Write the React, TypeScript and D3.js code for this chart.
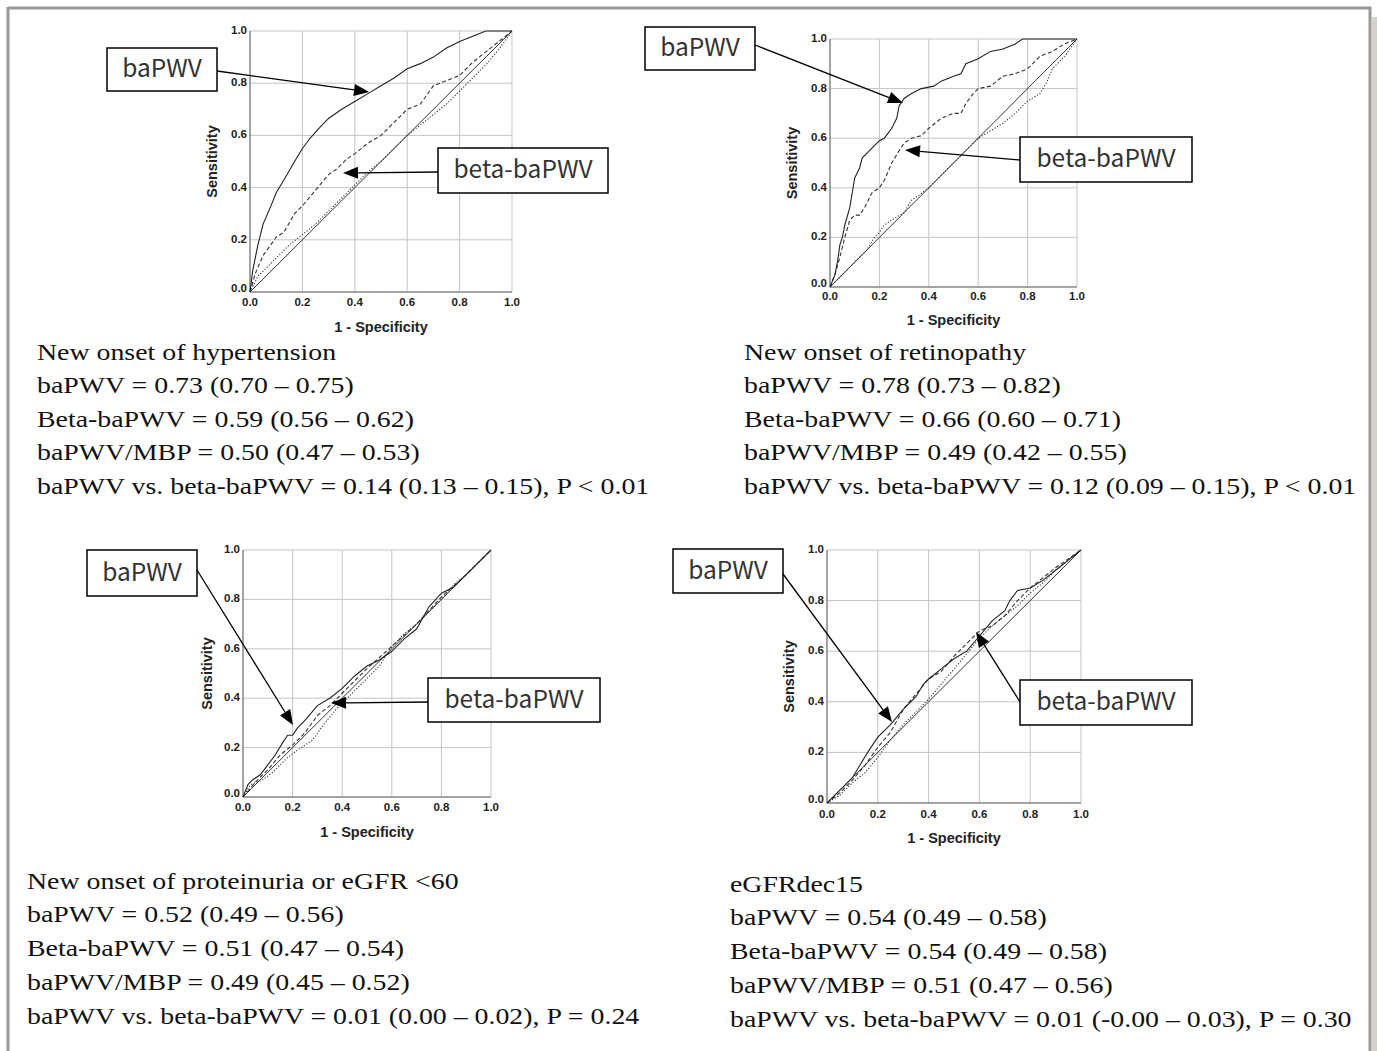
import React from "react";
import * as d3 from "d3";

type Pt = [number, number];

const ticks = [0, 0.2, 0.4, 0.6, 0.8, 1.0];
const xTitle = "1 - Specificity";
const yTitle = "Sensitivity";
const calloutA = "baPWV";
const calloutB = "beta-baPWV";

// Panel 1: New onset of hypertension
const hypBaPWV: Pt[] = [[0,0],[0.01,0.08],[0.03,0.18],[0.05,0.26],[0.08,0.33],[0.1,0.38],[0.13,0.43],[0.17,0.5],[0.2,0.55],[0.23,0.59],[0.27,0.635],[0.3,0.665],[0.35,0.7],[0.4,0.73],[0.45,0.76],[0.5,0.79],[0.55,0.82],[0.6,0.855],[0.65,0.875],[0.7,0.9],[0.75,0.935],[0.8,0.96],[0.85,0.98],[0.9,1.0],[0.95,1.0],[1,1]];
const hypBeta: Pt[] = [[0,0],[0.02,0.07],[0.05,0.14],[0.1,0.21],[0.13,0.23],[0.17,0.3],[0.2,0.33],[0.25,0.39],[0.3,0.45],[0.33,0.47],[0.37,0.51],[0.4,0.53],[0.45,0.57],[0.5,0.6],[0.55,0.65],[0.6,0.7],[0.65,0.72],[0.7,0.79],[0.75,0.81],[0.8,0.83],[0.85,0.88],[0.9,0.92],[0.95,0.96],[1,1]];
const hypMBP: Pt[] = [[0,0],[0.03,0.06],[0.07,0.1],[0.1,0.13],[0.15,0.18],[0.2,0.22],[0.25,0.26],[0.3,0.31],[0.35,0.36],[0.4,0.41],[0.45,0.46],[0.5,0.5],[0.55,0.55],[0.6,0.6],[0.65,0.64],[0.7,0.68],[0.75,0.72],[0.8,0.77],[0.85,0.82],[0.9,0.87],[0.95,0.93],[1,1]];
const hypText = ["New onset of hypertension","baPWV = 0.73 (0.70 – 0.75)","Beta-baPWV = 0.59 (0.56 – 0.62)","baPWV/MBP = 0.50 (0.47 – 0.53)","baPWV vs. beta-baPWV = 0.14 (0.13 – 0.15), P < 0.01"];

// Panel 2: New onset of retinopathy
const retBaPWV: Pt[] = [[0,0],[0.02,0.05],[0.03,0.1],[0.04,0.17],[0.05,0.2],[0.06,0.25],[0.08,0.32],[0.09,0.38],[0.1,0.44],[0.12,0.48],[0.13,0.52],[0.15,0.54],[0.18,0.57],[0.2,0.59],[0.22,0.6],[0.25,0.64],[0.27,0.68],[0.28,0.73],[0.3,0.76],[0.33,0.78],[0.37,0.8],[0.42,0.81],[0.45,0.83],[0.5,0.85],[0.53,0.86],[0.55,0.9],[0.6,0.92],[0.65,0.95],[0.7,0.96],[0.75,0.98],[0.78,1.0],[1,1]];
const retBeta: Pt[] = [[0,0],[0.02,0.05],[0.04,0.12],[0.06,0.2],[0.08,0.27],[0.1,0.29],[0.12,0.29],[0.14,0.32],[0.17,0.38],[0.2,0.4],[0.22,0.43],[0.25,0.5],[0.28,0.55],[0.3,0.58],[0.33,0.6],[0.37,0.61],[0.4,0.64],[0.45,0.68],[0.5,0.7],[0.53,0.7],[0.55,0.74],[0.58,0.78],[0.6,0.8],[0.65,0.81],[0.7,0.85],[0.75,0.86],[0.8,0.88],[0.85,0.93],[0.9,0.95],[0.95,0.98],[1,1]];
const retMBP: Pt[] = [[0,0],[0.05,0.05],[0.1,0.1],[0.15,0.15],[0.18,0.2],[0.2,0.22],[0.22,0.25],[0.25,0.27],[0.3,0.3],[0.33,0.35],[0.36,0.37],[0.4,0.4],[0.45,0.45],[0.5,0.5],[0.55,0.55],[0.6,0.6],[0.65,0.63],[0.7,0.66],[0.75,0.7],[0.8,0.75],[0.85,0.78],[0.88,0.83],[0.9,0.88],[0.95,0.93],[1,1]];
const retText = ["New onset of retinopathy","baPWV = 0.78 (0.73 – 0.82)","Beta-baPWV = 0.66 (0.60 – 0.71)","baPWV/MBP = 0.49 (0.42 – 0.55)","baPWV vs. beta-baPWV = 0.12 (0.09 – 0.15), P < 0.01"];

// Panel 3: New onset of proteinuria or eGFR <60
const proBaPWV: Pt[] = [[0,0],[0.02,0.05],[0.04,0.07],[0.07,0.09],[0.1,0.13],[0.13,0.17],[0.16,0.22],[0.18,0.25],[0.2,0.25],[0.22,0.28],[0.25,0.31],[0.3,0.37],[0.35,0.4],[0.4,0.44],[0.45,0.49],[0.5,0.53],[0.55,0.555],[0.6,0.59],[0.65,0.64],[0.7,0.68],[0.75,0.77],[0.8,0.825],[0.85,0.85],[0.9,0.9],[0.95,0.95],[1,1]];
const proBeta: Pt[] = [[0,0],[0.05,0.06],[0.1,0.11],[0.15,0.17],[0.2,0.21],[0.25,0.26],[0.3,0.33],[0.35,0.37],[0.4,0.42],[0.5,0.52],[0.6,0.61],[0.7,0.7],[0.8,0.81],[0.9,0.9],[1,1]];
const proMBP: Pt[] = [[0,0],[0.03,0.05],[0.08,0.07],[0.12,0.1],[0.18,0.16],[0.22,0.19],[0.28,0.23],[0.33,0.3],[0.38,0.36],[0.45,0.43],[0.5,0.48],[0.55,0.53],[0.6,0.61],[0.65,0.66],[0.7,0.7],[0.8,0.8],[0.85,0.86],[0.9,0.9],[1,1]];
const proText = ["New onset of proteinuria or eGFR <60","baPWV = 0.52 (0.49 – 0.56)","Beta-baPWV = 0.51 (0.47 – 0.54)","baPWV/MBP = 0.49 (0.45 – 0.52)","baPWV vs. beta-baPWV = 0.01 (0.00 – 0.02), P = 0.24"];

// Panel 4: eGFRdec15
const egfBaPWV: Pt[] = [[0,0],[0.05,0.05],[0.1,0.1],[0.13,0.15],[0.16,0.2],[0.2,0.26],[0.25,0.31],[0.3,0.37],[0.35,0.42],[0.38,0.47],[0.4,0.49],[0.45,0.53],[0.5,0.57],[0.55,0.6],[0.6,0.66],[0.65,0.72],[0.7,0.76],[0.72,0.8],[0.75,0.84],[0.8,0.85],[0.85,0.88],[0.9,0.92],[0.95,0.96],[1,1]];
const egfBeta: Pt[] = [[0,0],[0.05,0.04],[0.1,0.09],[0.15,0.15],[0.2,0.22],[0.25,0.28],[0.3,0.37],[0.35,0.43],[0.4,0.49],[0.45,0.52],[0.5,0.58],[0.55,0.63],[0.6,0.68],[0.65,0.7],[0.7,0.74],[0.75,0.8],[0.8,0.85],[0.85,0.89],[0.9,0.93],[1,1]];
const egfMBP: Pt[] = [[0,0],[0.05,0.03],[0.1,0.08],[0.15,0.12],[0.2,0.18],[0.25,0.25],[0.3,0.31],[0.35,0.36],[0.4,0.41],[0.45,0.47],[0.5,0.53],[0.55,0.59],[0.6,0.65],[0.65,0.7],[0.7,0.74],[0.75,0.78],[0.8,0.83],[0.85,0.87],[0.9,0.92],[1,1]];
const egfText = ["eGFRdec15","baPWV = 0.54 (0.49 – 0.58)","Beta-baPWV = 0.54 (0.49 – 0.58)","baPWV/MBP = 0.51 (0.47 – 0.56)","baPWV vs. beta-baPWV = 0.01 (-0.00 – 0.03), P = 0.30"];

const diagonal: Pt[] = [[0,0],[1,1]];

interface Layout {
  x0: number; x1: number; y0: number; y1: number;
  xTickY: number; xTitleY: number; yTitleX: number;
  boxA: [number, number, number, number]; arrowA: [number, number, number, number];
  boxB: [number, number, number, number]; arrowB: [number, number, number, number];
  textX: number; textY: number; textDy: number;
}

const panels: { solid: Pt[]; dashed: Pt[]; dotted: Pt[]; text: string[]; L: Layout }[] = [
  { solid: hypBaPWV, dashed: hypBeta, dotted: hypMBP, text: hypText,
    L: { x0: 250, x1: 512, y0: 31, y1: 292, xTickY: 303, xTitleY: 328, yTitleX: 213,
      boxA: [107, 48, 110, 43], arrowA: [217, 71, 369, 92],
      boxB: [438, 148, 170, 45], arrowB: [438, 172, 343, 173],
      textX: 37, textY: 354, textDy: 33.5 } },
  { solid: retBaPWV, dashed: retBeta, dotted: retMBP, text: retText,
    L: { x0: 830, x1: 1077, y0: 39, y1: 287, xTickY: 297, xTitleY: 321, yTitleX: 793,
      boxA: [645, 27, 110, 43], arrowA: [755, 45, 903, 103],
      boxB: [1020, 137, 172, 45], arrowB: [1020, 160, 905, 150],
      textX: 744, textY: 354, textDy: 33.5 } },
  { solid: proBaPWV, dashed: proBeta, dotted: proMBP, text: proText,
    L: { x0: 243, x1: 491, y0: 550, y1: 797, xTickY: 808, xTitleY: 833, yTitleX: 208,
      boxA: [87, 550, 110, 46], arrowA: [197, 570, 293, 725],
      boxB: [428, 678, 172, 44], arrowB: [428, 702, 331, 703],
      textX: 27, textY: 883, textDy: 33.8 } },
  { solid: egfBaPWV, dashed: egfBeta, dotted: egfMBP, text: egfText,
    L: { x0: 827, x1: 1081, y0: 550, y1: 803, xTickY: 815, xTitleY: 839, yTitleX: 790,
      boxA: [673, 549, 110, 44], arrowA: [783, 574, 892, 722],
      boxB: [1020, 680, 172, 45], arrowB: [1020, 702, 976, 632],
      textX: 730, textY: 886, textDy: 33.8 } },
];

function Arrow({ a }: { a: [number, number, number, number] }) {
  const [x1, y1, x2, y2] = a;
  const ang = Math.atan2(y2 - y1, x2 - x1);
  const len = 15, half = 6;
  const bx = x2 - len * Math.cos(ang), by = y2 - len * Math.sin(ang);
  const px = -Math.sin(ang) * half, py = Math.cos(ang) * half;
  return (
    <g>
      <line x1={x1} y1={y1} x2={bx} y2={by} stroke="#000" strokeWidth={1.3} />
      <path d={`M${x2},${y2}L${bx + px},${by + py}L${bx - px},${by - py}Z`} fill="#000" />
    </g>
  );
}

function Panel({ p }: { p: typeof panels[number] }) {
  const L = p.L;
  const x = d3.scaleLinear().domain([0, 1]).range([L.x0, L.x1]);
  const y = d3.scaleLinear().domain([0, 1]).range([L.y1, L.y0]);
  const line = d3.line<Pt>().x((d) => x(d[0])).y((d) => y(d[1]));
  const tickFont = { fontFamily: "Arial, 'Liberation Sans', sans-serif", fontWeight: 700, fontSize: 11.5 };
  const boxFont = { fontFamily: "'Noto Sans CJK JP', 'Noto Sans', sans-serif", fontWeight: 400, fontSize: 24.5 };
  return (
    <g>
      {ticks.map((t) => (
        <g key={"g" + t}>
          <line x1={x(t)} x2={x(t)} y1={L.y0} y2={L.y1} stroke="#c4c4c4" strokeWidth={1} />
          <line x1={L.x0} x2={L.x1} y1={y(t)} y2={y(t)} stroke="#c4c4c4" strokeWidth={1} />
        </g>
      ))}
      <line x1={L.x0} x2={L.x0} y1={L.y0} y2={L.y1} stroke="#666" strokeWidth={1} />
      <line x1={L.x0} x2={L.x1} y1={L.y1} y2={L.y1} stroke="#666" strokeWidth={1} />
      {ticks.map((t) => (
        <text key={"xt" + t} x={x(t)} y={L.xTickY} textAnchor="middle" dominantBaseline="middle" style={tickFont} fill="#222">
          {t.toFixed(1)}
        </text>
      ))}
      {ticks.map((t) => (
        <text key={"yt" + t} x={L.x0 - 3} y={y(t) - (t === 0 ? 3 : 0)} textAnchor="end" dominantBaseline="middle" style={tickFont} fill="#222">
          {t.toFixed(1)}
        </text>
      ))}
      <text x={(L.x0 + L.x1) / 2} y={L.xTitleY} textAnchor="middle" dominantBaseline="middle"
        style={{ ...tickFont, fontSize: 14.5 }} fill="#222">{xTitle}</text>
      <text transform={`translate(${L.yTitleX},${(L.y0 + L.y1) / 2}) rotate(-90)`} textAnchor="middle" dominantBaseline="middle"
        style={{ ...tickFont, fontSize: 14.5 }} fill="#222">{yTitle}</text>
      <path d={line(diagonal) || ""} fill="none" stroke="#333" strokeWidth={1} />
      <path d={line(p.dotted) || ""} fill="none" stroke="#333" strokeWidth={1.1} strokeDasharray="1.2,1.8" />
      <path d={line(p.dashed) || ""} fill="none" stroke="#333" strokeWidth={1.1} strokeDasharray="4,2.5" />
      <path d={line(p.solid) || ""} fill="none" stroke="#222" strokeWidth={1.1} />
      <rect x={L.boxA[0]} y={L.boxA[1]} width={L.boxA[2]} height={L.boxA[3]} fill="#fff" stroke="#000" strokeWidth={1.5} />
      <text x={L.boxA[0] + L.boxA[2] / 2} y={L.boxA[1] + L.boxA[3] / 2 + 1} textAnchor="middle" dominantBaseline="middle" style={boxFont} fill="#333">{calloutA}</text>
      <rect x={L.boxB[0]} y={L.boxB[1]} width={L.boxB[2]} height={L.boxB[3]} fill="#fff" stroke="#000" strokeWidth={1.5} />
      <text x={L.boxB[0] + L.boxB[2] / 2} y={L.boxB[1] + L.boxB[3] / 2 + 1} textAnchor="middle" dominantBaseline="middle" style={boxFont} fill="#333">{calloutB}</text>
      <Arrow a={L.arrowA} />
      <Arrow a={L.arrowB} />
      {p.text.map((s, i) => (
        <g key={"t" + i} transform={`translate(${L.textX},${L.textY + i * L.textDy}) scale(1.16,1)`}>
          <text x={0} y={0} dominantBaseline="middle"
            style={{ fontFamily: "'Liberation Serif', 'Times New Roman', serif", fontSize: 24 }} fill="#111">{s}</text>
        </g>
      ))}
    </g>
  );
}

export default function App() {
  return (
    <svg width={1377} height={1051} style={{ position: "absolute", left: 0, top: 0, background: "#fff" }}>
      <rect x={0} y={0} width={1377} height={1051} fill="#fff" />
      <rect x={1372} y={17} width={5} height={1034} fill="#d4d0cc" />
      <line x1={8} y1={8} x2={1371} y2={8} stroke="#999" strokeWidth={3} />
      <line x1={8} y1={7} x2={8} y2={1051} stroke="#999" strokeWidth={3} />
      <line x1={1370} y1={7} x2={1370} y2={1051} stroke="#999" strokeWidth={3} />
      {panels.map((p, i) => <Panel key={i} p={p} />)}
    </svg>
  );
}
